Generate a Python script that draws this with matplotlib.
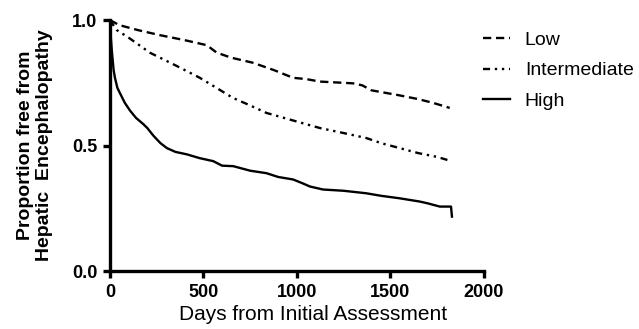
import matplotlib
matplotlib.use("Agg")
import matplotlib.pyplot as plt

plt.rcParams['font.family'] = ['Liberation Sans', 'DejaVu Sans']

low_days = [0, 50, 150, 267, 400, 518, 572, 650, 765, 880, 980, 1050, 1123, 1300, 1350, 1400, 1550, 1650, 1730, 1818]
low_vals = [1.0, 0.98, 0.96, 0.94, 0.92, 0.90, 0.87, 0.85, 0.83, 0.80, 0.77, 0.765, 0.755, 0.748, 0.74, 0.72, 0.70, 0.685, 0.67, 0.65]

int_days = [0, 37, 100, 214, 350, 481, 570, 658, 750, 838, 980, 1123, 1250, 1372, 1450, 1550, 1650, 1750, 1818]
int_vals = [1.0, 0.96, 0.93, 0.87, 0.82, 0.77, 0.73, 0.69, 0.66, 0.63, 0.60, 0.57, 0.55, 0.53, 0.51, 0.49, 0.47, 0.455, 0.44]

high_days = [0, 5, 10, 20, 27, 40, 53, 80, 107, 140, 178, 200, 232, 270, 305, 350, 412, 480, 553, 600,
             660, 750, 838, 900, 980, 1030, 1070, 1140, 1250, 1372, 1450, 1550, 1658, 1700, 1765, 1825, 1830]
high_vals = [1.0, 0.93, 0.88, 0.80, 0.77, 0.73, 0.71, 0.67, 0.64, 0.61, 0.586, 0.57, 0.54, 0.51, 0.49, 0.475, 0.465, 0.45, 0.438, 0.42,
             0.418, 0.40, 0.39, 0.375, 0.365, 0.35, 0.337, 0.325, 0.32, 0.31, 0.30, 0.29, 0.277, 0.27, 0.257, 0.257, 0.217]

labels = ["Low", "Intermediate", "High"]
x_ticks = [0, 500, 1000, 1500, 2000]
y_ticks = [0.0, 0.5, 1.0]

fig = plt.figure(figsize=(6.39, 3.29), dpi=100)
ax = fig.add_axes([0.172, 0.176, 0.585, 0.763])

ax.plot(low_days, low_vals, color='black', lw=1.7, dashes=(3.5, 2), label=labels[0])
ax.plot(int_days, int_vals, color='black', lw=1.7, dashes=(3, 2, 1, 2, 1, 2), label=labels[1])
ax.plot(high_days, high_vals, color='black', lw=1.7, label=labels[2])

ax.set_xlim(0, 2000)
ax.set_ylim(0, 1.0)
ax.set_xticks(x_ticks)
ax.set_yticks(y_ticks)
ax.set_yticklabels([f"{v:.1f}" for v in y_ticks])
for s in ['top', 'right']:
    ax.spines[s].set_visible(False)
for s in ['left', 'bottom']:
    ax.spines[s].set_linewidth(2.4)
ax.tick_params(width=2.4, length=5, direction='out', labelsize=13, pad=4)
for lab in ax.get_xticklabels() + ax.get_yticklabels():
    lab.set_fontweight('bold')

ax.set_xlabel("Days from Initial Assessment", fontsize=15)
ax.xaxis.set_label_coords(0.543, -0.135, transform=ax.transAxes)
ax.xaxis.label.set_va('top')
ax.set_ylabel("Proportion free from\nHepatic  Encephalopathy", fontsize=14, fontweight='bold',
              labelpad=14, linespacing=1.1)

fig.legend(loc='upper left', bbox_to_anchor=(483 / 639, 1 - 31 / 329), frameon=False, fontsize=14,
           handlelength=1.4, labelspacing=0.68, handletextpad=0.75, borderpad=0, borderaxespad=0)

fig.savefig("out.png", dpi=100)
